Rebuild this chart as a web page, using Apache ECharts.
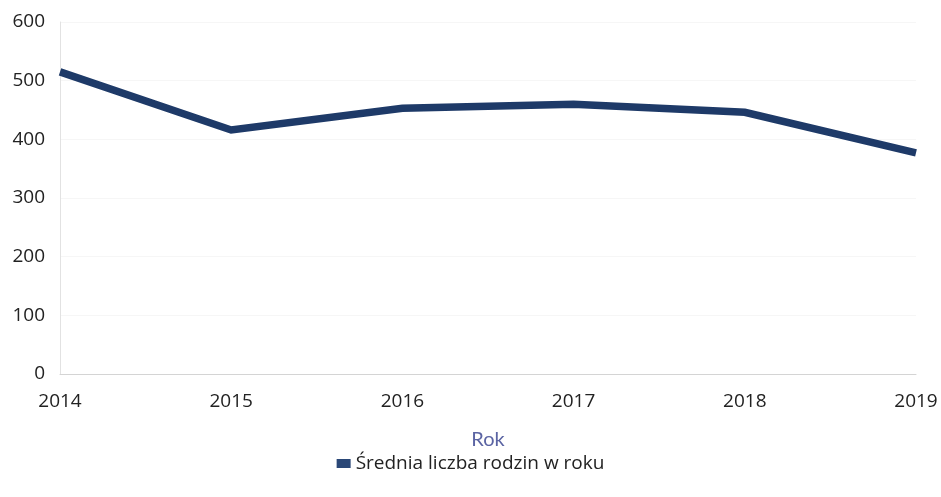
<!DOCTYPE html>
<html><head><meta charset="utf-8">
<script src="https://cdn.jsdelivr.net/npm/echarts@6/dist/echarts.min.js"></script>
<style>html,body{margin:0;padding:0;background:#fff}#c{width:941px;height:497px}</style>
</head><body><div id="c"></div>
<script>
const categories = ['2014','2015','2016','2017','2018','2019'];
const values = [515, 416, 453, 460, 446, 377];
const seriesName = 'Średnia liczba rodzin w roku';
const xAxisName = 'Rok';

const F = 'Open Sans';
const chart = echarts.init(document.getElementById('c'));
chart.setOption({
  animation: false,
  grid: {left: 60, right: 25, top: 22, bottom: 123, containLabel: false},
  xAxis: {
    type: 'category', data: categories, boundaryGap: false,
    name: xAxisName, nameLocation: 'middle', nameGap: 66,
    nameTextStyle: {color: '#5b64a3', fontSize: 20, fontFamily: 'Lato', lineHeight: 20, padding: [0, 0, 0, 0], verticalAlign: 'middle'},
    axisLine: {lineStyle: {color: '#d4d4d4', width: 1}},
    axisTick: {show: false},
    axisLabel: {color: '#222', fontSize: 19, margin: 18, fontFamily: F}
  },
  yAxis: {
    type: 'value', min: 0, max: 600, interval: 100,
    axisLine: {show: true, lineStyle: {color: '#e2e2e2'}},
    axisTick: {show: false},
    splitLine: {show: true, lineStyle: {color: '#f6f6f6'}},
    axisLabel: {color: '#222', fontSize: 19, margin: 15, fontFamily: F}
  },
  legend: {
    top: 449, left: 'center',
    itemWidth: 14, itemHeight: 9, icon: 'rect', itemGap: 8,
    textStyle: {color: '#222', fontSize: 19, fontFamily: F},
    data: [{name: seriesName, icon: 'rect'}]
  },
  series: [{
    name: seriesName, type: 'line', data: values,
    showSymbol: false, symbol: 'none',
    lineStyle: {color: '#1e3a68', width: 7.5, join: 'miter'},
    itemStyle: {color: '#2a4777'}
  }]
});
</script></body></html>
